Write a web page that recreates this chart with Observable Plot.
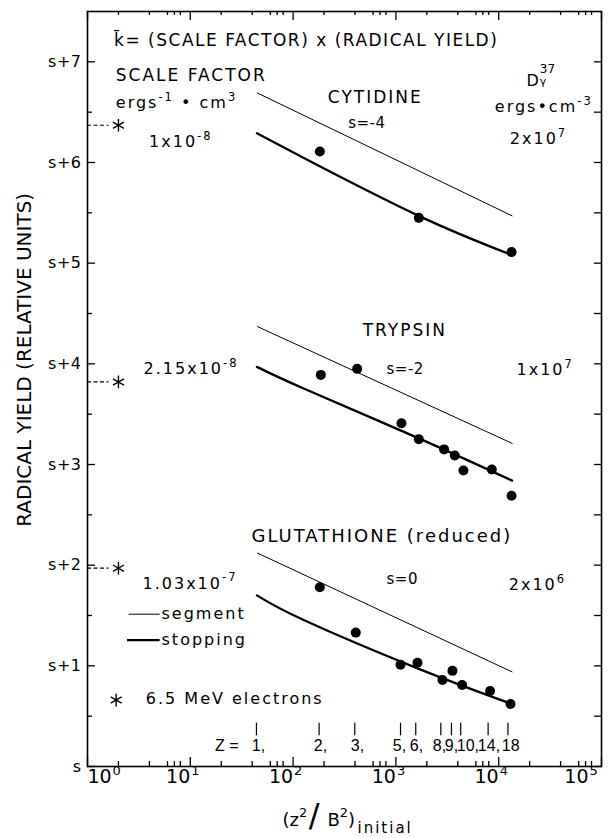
<!DOCTYPE html>
<html>
<head>
<meta charset="utf-8">
<script src="https://cdn.jsdelivr.net/npm/d3@7"></script>
<script src="https://cdn.jsdelivr.net/npm/@observablehq/plot@0.6"></script>
<style>
  html, body { margin: 0; padding: 0; background: #fff; }
</style>
</head>
<body>
<div id="chart"></div>
<script>
// ---------------- data ----------------
const compounds = ["CYTIDINE", "TRYPSIN", "GLUTATHIONE (reduced)"];
const shiftLabels = ["s=-4", "s=-2", "s=0"];
const scaleFactorLabels = ["1x10⁻⁸", "2.15x10⁻⁸", "1.03x10⁻⁷"];
const d37Labels = ["2x10⁷", "1x10⁷", "2x10⁶"];

// thin "segment" curves
const segmentX = [45, 13500];
const cytidineSegmentY = [6.69, 5.47];
const trypsinSegmentY = [4.37, 3.21];
const glutathioneSegmentY = [2.12, 0.94];

// thick "stopping" curves
const stoppingX = [44.5, 130, 1670, 13500];
const cytidineStoppingY = [6.29, 6.04, 5.47, 5.08];
const trypsinStoppingY = [3.97, 3.75, 3.26, 2.84];
const glutathioneStoppingY = [1.70, 1.45, 0.97, 0.62];

// measured points
const cytidinePointX = [182, 1671, 13335];
const cytidinePointY = [6.11, 5.45, 5.11];
const trypsinPointX = [186, 420, 1132, 1671, 2944, 3741, 4539, 8570, 13335];
const trypsinPointY = [3.89, 3.95, 3.41, 3.25, 3.15, 3.09, 2.94, 2.95, 2.69];
const glutathionePointX = [182, 407, 1109, 1622, 2838, 3548, 4406, 8241, 13032];
const glutathionePointY = [1.78, 1.33, 1.01, 1.03, 0.86, 0.95, 0.81, 0.75, 0.62];

// 6.5 MeV electrons
const electronX = [2, 2, 2];
const electronY = [6.37, 3.82, 1.97];

// Z markers (tick positions) and where their labels sit
const zValues = [44, 179, 398, 1109, 1560, 2735, 3470, 4270, 7890, 12300];
const zLabels = ["1,", "2,", "3,", "5,", "6,", "8,", "9,", "10,", "14,", "18"];
const zLabelX = [39.7, 159, 364, 933, 1365, 2286, 2990, 3910, 6270, 10720];

// axes
const yMajor = [0, 1, 2, 3, 4, 5, 6, 7];
const yMinor = [0.5, 1.5, 2.5, 3.5, 4.5, 5.5, 6.5];
const yTickLabels = ["s", "s+1", "s+2", "s+3", "s+4", "s+5", "s+6", "s+7"];
const xMajor = [1, 10, 100, 1000, 10000, 100000];
const xMinor = [2, 4, 6, 7, 8, 20, 40, 60, 70, 80, 200, 400, 600, 700, 800,
                2000, 4000, 6000, 7000, 8000, 20000, 40000, 60000, 70000, 80000];
const xTickBase = ["10", "10", "10", "10", "10", "10"];
const xTickExp = ["0", "1", "2", "3", "4", "5"];
const yTitle = "RADICAL YIELD (RELATIVE UNITS)";

// ---------------- tables ----------------
const segYs = [cytidineSegmentY, trypsinSegmentY, glutathioneSegmentY];
const stopYs = [cytidineStoppingY, trypsinStoppingY, glutathioneStoppingY];
const ptXs = [cytidinePointX, trypsinPointX, glutathionePointX];
const ptYs = [cytidinePointY, trypsinPointY, glutathionePointY];
const segments = compounds.flatMap((c, k) => segmentX.map((x, i) => ({c, x, y: segYs[k][i]})));
const stopping = compounds.flatMap((c, k) => stoppingX.map((x, i) => ({c, x, y: stopYs[k][i]})));
const points = compounds.flatMap((c, k) => ptXs[k].map((x, i) => ({c, x, y: ptYs[k][i]})));
const electrons = electronX.map((x, i) => ({x, y: electronY[i]}));
const zLabelTable = zLabelX.map((x, i) => ({x, label: zLabels[i]}));
const yTicks = yMajor.map((y, i) => ({y, label: yTickLabels[i]}));
const xTicks = xMajor.map((x, i) => ({x, base: xTickBase[i], exp: xTickExp[i]}));

// ---------------- layout ----------------
const W = 608, H = 838;
const mL = 87, mR = 7, mT = 11, mB = 72;
const frameW = W - mL - mR;
const frameH = H - mT - mB;

const note = (text, x, y, o = {}) =>
  Plot.text([text], {x, y, text: d => d, textAnchor: "start", fontSize: 16, ...o});
const below = (text, x, dy, fontSize) =>
  Plot.text([text], {x, text: d => d, frameAnchor: "bottom", textAnchor: "start", dy, fontSize});

const marks = [
  Plot.frame({stroke: "black", strokeWidth: 1.6}),
  // inward ticks
  Plot.ruleY(yMajor, {insetRight: frameW - 8, strokeWidth: 1.3}),
  Plot.ruleY(yMinor, {insetRight: frameW - 5, strokeWidth: 1.3}),
  Plot.ruleY(yMajor.concat(yMinor), {insetLeft: frameW - 7, strokeWidth: 1.3}),
  Plot.ruleX(xMajor, {insetTop: frameH - 9, strokeWidth: 1.3}),
  Plot.ruleX(xMinor, {insetTop: frameH - 5, strokeWidth: 1.3}),
  Plot.ruleX(xMajor, {insetBottom: frameH - 9, strokeWidth: 1.3}),
  Plot.ruleX(xMinor, {insetBottom: frameH - 4, strokeWidth: 1.3}),

  // y tick labels
  Plot.text(yTicks, {y: "y", text: "label", frameAnchor: "left", textAnchor: "end", dx: -6, fontSize: 16}),
  // x tick labels
  Plot.text(xTicks.slice(1, 5), {x: "x", text: "base", frameAnchor: "bottom", textAnchor: "end", dy: 16, fontSize: 19}),
  Plot.text(xTicks.slice(1, 5), {x: "x", text: "exp", frameAnchor: "bottom", textAnchor: "start", dx: 1, dy: 8, fontSize: 13}),
  Plot.text(xTicks.slice(0, 1), {x: "x", text: "base", frameAnchor: "bottom", textAnchor: "start", dx: 0, dy: 16, fontSize: 19}),
  Plot.text(xTicks.slice(0, 1), {x: "x", text: "exp", frameAnchor: "bottom", textAnchor: "start", dx: 25, dy: 8, fontSize: 13}),
  Plot.text(xTicks.slice(5), {x: "x", text: "base", frameAnchor: "bottom", textAnchor: "end", dx: -13, dy: 16, fontSize: 19}),
  Plot.text(xTicks.slice(5), {x: "x", text: "exp", frameAnchor: "bottom", textAnchor: "start", dx: -12, dy: 8, fontSize: 13}),

  // axis titles
  below("(z²", 78.9, 59, 18),
  below("/", 142, 59, 32),
  below("B²)", 216, 59, 18),
  below("initial", 423, 66, 15),
  Plot.text([yTitle], {y: 4.04, text: d => d, frameAnchor: "left", textAnchor: "middle", dx: -63, rotate: -90, fontSize: 20}),

  // curves
  Plot.line(segments, {x: "x", y: "y", z: "c", stroke: "black", strokeWidth: 1}),
  Plot.line(stopping, {x: "x", y: "y", z: "c", stroke: "black", strokeWidth: 2.3, curve: "natural"}),
  Plot.dot(points, {x: "x", y: "y", r: 5, fill: "black", stroke: "none"}),

  // electrons
  Plot.ruleY(electronY, {x1: 1, x2: 1.62, stroke: "black", strokeWidth: 1.2, strokeDasharray: "4,2.5"}),
  Plot.dot(electrons, {x: "x", y: "y", symbol: "asterisk", r: 6, stroke: "black", strokeWidth: 1.4}),

  // Z markers
  Plot.ruleX(zValues, {y1: 0.305, y2: 0.43, stroke: "black", strokeWidth: 1.2}),
  Plot.text(zLabelTable, {x: "x", y: 0.206, text: "label", textAnchor: "start", fontSize: 16, fontFamily: "Liberation Sans"}),
  note("Z =", 17.4, 0.206, {fontSize: 16, fontFamily: "Liberation Sans"}),

  // header annotations
  note("k\u0304= (SCALE FACTOR) x (RADICAL YIELD)", 1.815, 7.207, {fontSize: 17}),
  note("SCALE FACTOR", 1.885, 6.859, {fontSize: 17}),
  note("ergs⁻¹ • cm³", 1.885, 6.59),
  note("D", 18620, 6.815),
  note("37", 25100, 6.925, {fontSize: 12}),
  note("γ", 25100, 6.805, {fontSize: 11}),
  note("ergs•cm⁻³", 9160, 6.55),

  // compound labels
  Plot.text(compounds.slice(0, 2), {x: [630, 1221], y: [6.643, 4.334], text: d => d, textAnchor: "middle", fontSize: 17}),
  note(compounds[2], 39.4, 2.291, {fontSize: 18}),
  Plot.text(shiftLabels, {x: [343, 810, 810], y: [6.389, 3.946, 1.861], text: d => d, textAnchor: "start", fontSize: 15}),
  Plot.text(scaleFactorLabels, {x: [3.97, 3.51, 3.43], y: [6.205, 3.946, 1.819], text: d => d, textAnchor: "start", fontSize: 16}),
  Plot.text(d37Labels, {x: [12830, 14900, 12530], y: [6.23, 3.937, 1.802], text: d => d, textAnchor: "start", fontSize: 16}),

  // legend
  Plot.ruleY([1.513], {x1: 2.54, x2: 5.09, stroke: "black", strokeWidth: 1}),
  Plot.ruleY([1.255], {x1: 2.45, x2: 5.09, stroke: "black", strokeWidth: 2.3}),
  note("segment", 5.25, 1.513),
  note("stopping", 5.25, 1.258),
  Plot.dot([0], {x: 1.9, y: 0.66, symbol: "asterisk", r: 6, stroke: "black", strokeWidth: 1.4}),
  note("6.5 MeV electrons", 3.69, 0.669)
];

const chart = Plot.plot({
  width: W, height: H,
  marginLeft: mL, marginRight: mR, marginTop: mT, marginBottom: mB,
  x: {type: "log", domain: [1, 1e5], axis: null},
  y: {domain: [0, 7.5], axis: null},
  style: {fontFamily: "DejaVu Sans", background: "white", color: "black", letterSpacing: "2px", overflow: "visible"},
  marks
});
document.getElementById("chart").appendChild(chart);

// tighter spacing for some labels
const tight = new Map();
yTickLabels.forEach(s => tight.set(s, "0.5px"));
xTickBase.forEach(s => tight.set(s, "0px"));
xTickExp.forEach(s => tight.set(s, "0px"));
zLabels.forEach(s => tight.set(s, "0px"));
shiftLabels.forEach(s => tight.set(s, "0.5px"));
[yTitle, "Z =", "37", "γ", "D", "(z²", "B²)", "/"].forEach(s => tight.set(s, "0px"));
tight.set("k\u0304= (SCALE FACTOR) x (RADICAL YIELD)", "1.5px");
chart.querySelectorAll("text").forEach(t => {
  const s = t.textContent;
  if (tight.has(s)) t.style.letterSpacing = tight.get(s);
});

// turn unicode superscripts into raised, smaller tspans
const supMap = {"⁰":"0","¹":"1","²":"2","³":"3","⁴":"4","⁵":"5","⁶":"6","⁷":"7","⁸":"8","⁹":"9","⁻":"-"};
const SVGNS = "http://www.w3.org/2000/svg";
chart.querySelectorAll("text").forEach(t => {
  const s = t.textContent;
  if (![...s].some(ch => ch in supMap)) return;
  const holder = t.closest("[font-size]");
  const fs = parseFloat(holder ? holder.getAttribute("font-size") : 16) || 16;
  const runs = [];
  let cur = null;
  for (const ch of s) {
    const sup = ch in supMap;
    if (!cur || cur.sup !== sup) runs.push(cur = {sup, text: ""});
    cur.text += sup ? supMap[ch] : ch;
  }
  t.textContent = "";
  let shifted = false;
  for (const r of runs) {
    const ts = document.createElementNS(SVGNS, "tspan");
    ts.textContent = r.text;
    if (r.sup) {
      ts.setAttribute("font-size", (fs * 0.72).toFixed(1));
      ts.setAttribute("dy", (-fs * 0.45).toFixed(1));
      shifted = true;
    } else if (shifted) {
      ts.setAttribute("dy", (fs * 0.45).toFixed(1));
      shifted = false;
    }
    t.appendChild(ts);
  }
});
</script>
</body>
</html>
